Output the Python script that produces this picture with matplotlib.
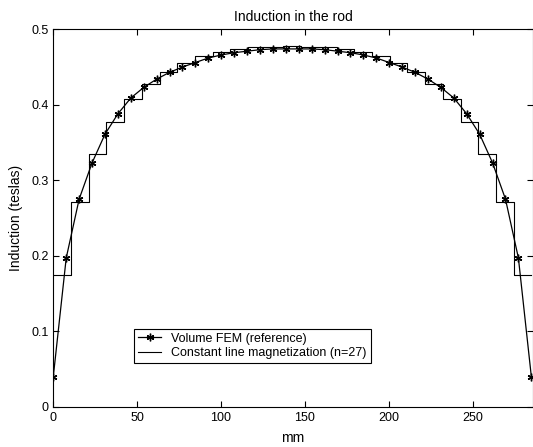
import matplotlib.pyplot as plt
import numpy as np

plt.rcParams["font.family"] = ["Liberation Sans", "DejaVu Sans"]

rod_length = 285.0

# Volume FEM reference, left half (symmetric about the rod centre)
fem_half = [0.040, 0.197, 0.275, 0.323, 0.361, 0.388, 0.409, 0.423, 0.434,
            0.443, 0.450, 0.456, 0.462, 0.466, 0.469, 0.471, 0.473, 0.474, 0.474]
fem_values = fem_half + fem_half[::-1]

# constant line magnetization, n=27 segments (symmetric)
step_half = [0.174, 0.271, 0.335, 0.377, 0.407, 0.428, 0.444, 0.455,
             0.464, 0.470, 0.474, 0.476, 0.477]
step_centre = [0.478]
step_values = step_half + step_centre + step_half[::-1]

x_fem = np.linspace(0, rod_length, len(fem_values))
edges = np.linspace(0, rod_length, len(step_values) + 1)

fig = plt.figure(figsize=(5.33, 4.47), dpi=100)
ax = fig.add_axes([53.3 / 533, 1 - 406.7 / 447, 1 - 53.3 / 533, (406.7 - 29.3) / 447])

ax.plot(x_fem, fem_values, color="black", linewidth=0.9,
        marker=(6, 2, 0), markersize=5.5, markeredgewidth=1.0,
        label="Volume FEM (reference)")
ax.step(edges, step_values + [step_values[-1]], where="post",
        color="black", linewidth=0.8,
        label="Constant line magnetization (n=27)")

ax.set_xlim(0, 286)
ax.set_ylim(0, 0.5)
ax.set_xticks([0, 50, 100, 150, 200, 250])
ax.set_yticks([0, 0.1, 0.2, 0.3, 0.4, 0.5])
ax.set_yticklabels(["0", "0.1", "0.2", "0.3", "0.4", "0.5"])
ax.tick_params(direction="in", top=True, right=True, labelsize=9, length=4)

ax.set_title("Induction in the rod", fontsize=10, pad=6)
ax.set_xlabel("mm", fontsize=10, labelpad=5)
ax.set_ylabel("Induction (teslas)", fontsize=10, labelpad=6)

leg = ax.legend(loc="lower left", bbox_to_anchor=(0.168, 0.116),
                borderaxespad=0, fontsize=9, fancybox=False,
                framealpha=1, edgecolor="black", handlelength=1.9,
                borderpad=0.3, labelspacing=0.2)
leg.get_frame().set_linewidth(0.8)

plt.savefig("out.png", dpi=100)
